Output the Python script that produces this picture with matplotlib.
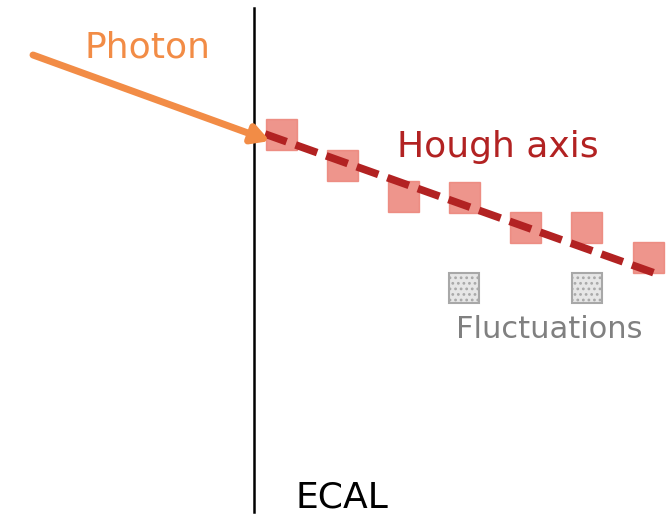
import matplotlib
matplotlib.use("Agg")
import matplotlib.pyplot as plt
from matplotlib.patches import Rectangle

plt.rcParams["hatch.color"] = "#9a9a9a"
plt.rcParams["hatch.linewidth"] = 1.2

# calorimeter hits along the shower (x, y in drawing units, y grows downward)
hit_x = [281, 342, 403, 464, 525, 586, 648]
hit_y = [134, 165, 196, 197, 227, 227, 257]

# fluctuation cells below the axis
fluct_x = [464, 587]
fluct_y = [288, 288]

# hough axis end points
axis_x = [265, 660]
axis_y = [134, 275]

# incoming photon
photon_start = (33, 55)
photon_end = (270, 141)

ecal_x = 254
cell = 31

fig = plt.figure(figsize=(6.69, 5.15), dpi=100)
ax = fig.add_axes([0, 0, 1, 1])
ax.set_xlim(0, 669)
ax.set_ylim(515, 0)
ax.axis("off")

ax.plot([ecal_x, ecal_x], [8, 512], color="black", lw=1.8, zorder=1)

for x, y in zip(hit_x, hit_y):
    ax.add_patch(Rectangle((x - cell / 2, y - cell / 2), cell, cell,
                           facecolor="#ec8378", edgecolor="#ec8378",
                           alpha=0.85, lw=1, zorder=2))

for x, y in zip(fluct_x, fluct_y):
    ax.add_patch(Rectangle((x - 15, y - 15), 30, 30,
                           facecolor="#e6e6e6", edgecolor="#a8a8a8",
                           hatch="...", lw=1.5, zorder=2))

ax.plot(axis_x, axis_y, color="#b22222", lw=5.5, dashes=(3.0, 1.25),
        solid_capstyle="butt", zorder=3)

ax.annotate("", xy=photon_end, xytext=photon_start,
            arrowprops=dict(arrowstyle="-|>,head_length=1.0,head_width=0.55",
                            color="#f28c46", lw=5, shrinkA=0, shrinkB=0),
            zorder=4)

ax.text(147, 48, "Photon", color="#f28c46", fontsize=26, ha="center", va="center")
ax.text(498, 147, "Hough axis", color="#b22222", fontsize=26, ha="center", va="center")
ax.text(549, 330, "Fluctuations", color="#808080", fontsize=22, ha="center", va="center")
ax.text(342, 498, "ECAL", color="black", fontsize=26, ha="center", va="center")

fig.savefig("out.png", dpi=100)
